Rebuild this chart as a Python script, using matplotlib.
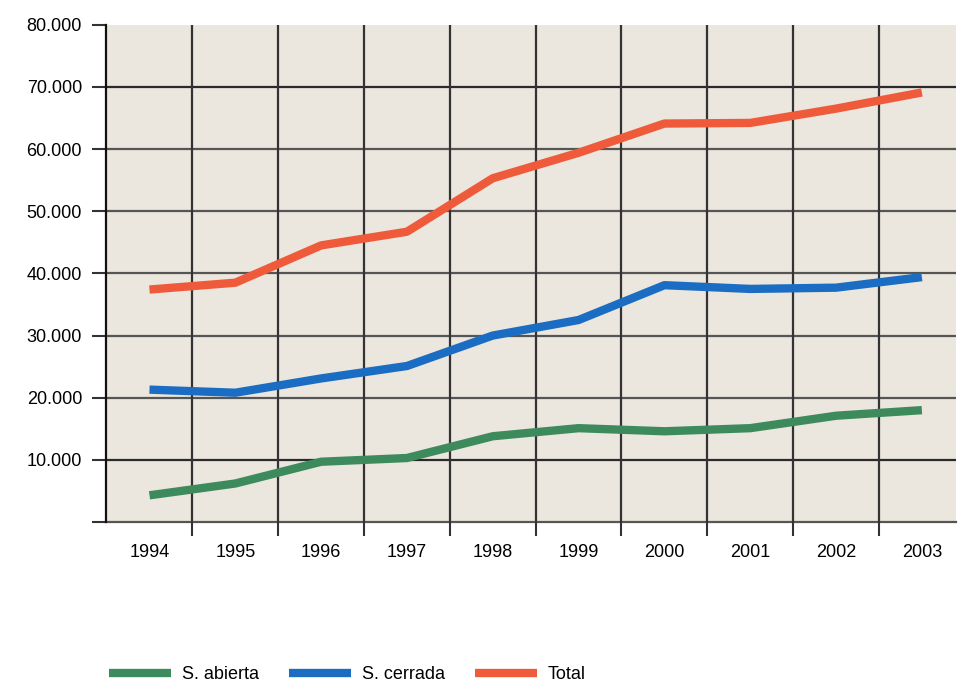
import matplotlib.pyplot as plt
import numpy as np

# Data
years = ["1994", "1995", "1996", "1997", "1998", "1999", "2000", "2001", "2002", "2003"]
s_abierta = [4300, 6200, 9700, 10300, 13800, 15100, 14600, 15100, 17100, 18000]
s_cerrada = [21300, 20800, 23100, 25100, 30000, 32500, 38100, 37500, 37700, 39400]
total = [37400, 38500, 44500, 46700, 55300, 59400, 64100, 64200, 66500, 69100]

y_ticks = [0, 10000, 20000, 30000, 40000, 50000, 60000, 70000, 80000]
y_labels = ["", "10.000", "20.000", "30.000", "40.000", "50.000", "60.000", "70.000", "80.000"]

plt.rcParams['font.family'] = ['Liberation Sans', 'DejaVu Sans']

fig = plt.figure(figsize=(9.61, 6.86), dpi=100)
ax = fig.add_axes([0.110, 0.239, 0.885, 0.725])
ax.set_facecolor('#ebe6de')

x = np.arange(len(years))
ax.plot(x, s_abierta, color='#3d8a5c', lw=6, solid_capstyle='butt', label='S. abierta', zorder=3)
ax.plot(x, s_cerrada, color='#1a6dc2', lw=6, solid_capstyle='butt', label='S. cerrada', zorder=3)
ax.plot(x, total, color='#ef5a3a', lw=6, solid_capstyle='butt', label='Total', zorder=3)

ax.set_xlim(-0.51, 9.4)
ax.set_ylim(0, 80000)

# y axis
ax.set_yticks(y_ticks)
ax.set_yticklabels(y_labels, fontsize=13)
ax.tick_params(axis='y', length=10, width=1.5, color='#333333', pad=7)

# x axis: labels at categories, tick lines at category boundaries
ax.set_xticks(x)
ax.set_xticklabels(years, fontsize=13)
ax.set_xticks(x[:-1] + 0.5, minor=True)
ax.tick_params(axis='x', which='major', length=0, pad=16)
ax.tick_params(axis='x', which='minor', length=10, width=1.5, color='#333333')

# grid
for v in y_ticks[1:-1]:
    ax.axhline(v, color='#2a2a2a' if v in (10000, 70000) else '#555555', lw=1.6, zorder=1)
ax.axhline(0, color='#555555', lw=1.6, zorder=1, clip_on=False)
for b in x[:-1] + 0.5:
    ax.axvline(b, color='#333333', lw=1.6, zorder=1)

for side in ['top', 'right', 'bottom']:
    ax.spines[side].set_visible(False)
ax.spines['left'].set_linewidth(1.6)
ax.spines['left'].set_color('#111111')

fig.legend(loc='lower left', bbox_to_anchor=(0.097, -0.02), ncol=3, frameon=False,
           fontsize=13, handlelength=3.4, handletextpad=0.6, columnspacing=1.7)

fig.savefig('out.png', dpi=100, facecolor='white')
